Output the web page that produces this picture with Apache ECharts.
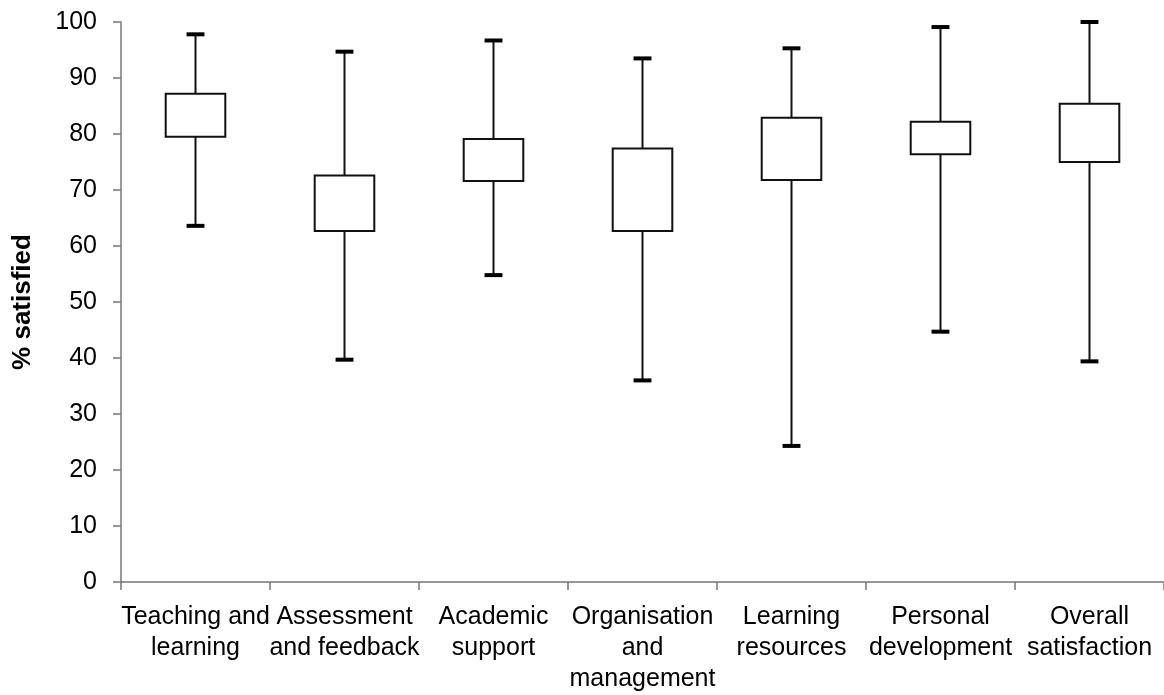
<!DOCTYPE html>
<html lang="en">
<head>
  <meta charset="UTF-8">
  <title>% satisfied</title>
  <script src="https://cdn.jsdelivr.net/npm/echarts@6/dist/echarts.min.js"></script>
  <style>
    html, body { margin: 0; padding: 0; background: #fff; }
  </style>
</head>
<body>
  <div id="app" style="width: 1164px; height: 695px;"></div>
  <script>
    // categories and box values (min, lower quartile, upper quartile, max)
    var categories = [
      'Teaching and\nlearning',
      'Assessment\nand feedback',
      'Academic\nsupport',
      'Organisation\nand\nmanagement',
      'Learning\nresources',
      'Personal\ndevelopment',
      'Overall\nsatisfaction'
    ]
    var minVals = [63.6, 39.7, 54.8, 36.0, 24.3, 44.7, 39.4]
    var q1Vals  = [79.5, 62.7, 71.6, 62.7, 71.8, 76.4, 75.0]
    var q3Vals  = [87.2, 72.6, 79.1, 77.4, 82.9, 82.2, 85.4]
    var maxVals = [97.8, 94.7, 96.7, 93.5, 95.3, 99.1, 100]

    var seriesData = categories.map(function (c, i) {
      return [i, minVals[i], q1Vals[i], q3Vals[i], maxVals[i]]
    })

    var mCharts = echarts.init(document.querySelector('#app'))

    function renderBox(params, api) {
      var idx = api.value(0)
      var lo = api.coord([idx, api.value(1)])
      var q1 = api.coord([idx, api.value(2)])
      var q3 = api.coord([idx, api.value(3)])
      var hi = api.coord([idx, api.value(4)])
      var band = api.size([1, 0])[0]
      var boxW = band * 0.4
      var capW = band * 0.12
      var x = lo[0]
      var lineStyle = { stroke: '#111', lineWidth: 2, fill: null }
      return {
        type: 'group',
        children: [
          { type: 'line', shape: { x1: x, y1: hi[1], x2: x, y2: q3[1] }, style: lineStyle },
          { type: 'line', shape: { x1: x, y1: q1[1], x2: x, y2: lo[1] }, style: lineStyle },
          { type: 'rect', shape: { x: x - boxW / 2, y: q3[1], width: boxW, height: q1[1] - q3[1] },
            style: { fill: '#fff', stroke: '#111', lineWidth: 2 } },
          { type: 'line', shape: { x1: x - capW / 2, y1: hi[1], x2: x + capW / 2, y2: hi[1] },
            style: { stroke: '#000', lineWidth: 4 } },
          { type: 'line', shape: { x1: x - capW / 2, y1: lo[1], x2: x + capW / 2, y2: lo[1] },
            style: { stroke: '#000', lineWidth: 4 } }
        ]
      }
    }

    var option = {
      animation: false,
      grid: { left: 121, right: 0, top: 22, bottom: 107, containLabel: false },
      xAxis: {
        type: 'category',
        data: categories,
        boundaryGap: true,
        axisLine: { lineStyle: { color: '#777', width: 1.5 } },
        axisTick: { show: true, length: 8, lineStyle: { color: '#777', width: 1.5 } },
        axisLabel: {
          interval: 0,
          margin: 20,
          color: '#000',
          fontSize: 25,
          lineHeight: 31,
          fontFamily: 'Liberation Sans, Arial, sans-serif'
        },
        splitLine: { show: false }
      },
      yAxis: {
        type: 'value',
        min: 0,
        max: 100,
        interval: 10,
        name: '% satisfied',
        nameLocation: 'middle',
        nameGap: 85,
        nameTextStyle: {
          color: '#000',
          fontSize: 26,
          fontWeight: 'bold',
          fontFamily: 'Liberation Sans, Arial, sans-serif'
        },
        axisLine: { show: true, lineStyle: { color: '#777', width: 1.5 } },
        axisTick: { show: true, length: 8, lineStyle: { color: '#777', width: 1.5 } },
        axisLabel: {
          margin: 24,
          color: '#000',
          fontSize: 25,
          fontFamily: 'Liberation Sans, Arial, sans-serif'
        },
        splitLine: { show: false }
      },
      series: [{
        type: 'custom',
        renderItem: renderBox,
        encode: { x: 0, y: [1, 2, 3, 4] },
        data: seriesData
      }]
    }
    mCharts.setOption(option)
  </script>
</body>
</html>
